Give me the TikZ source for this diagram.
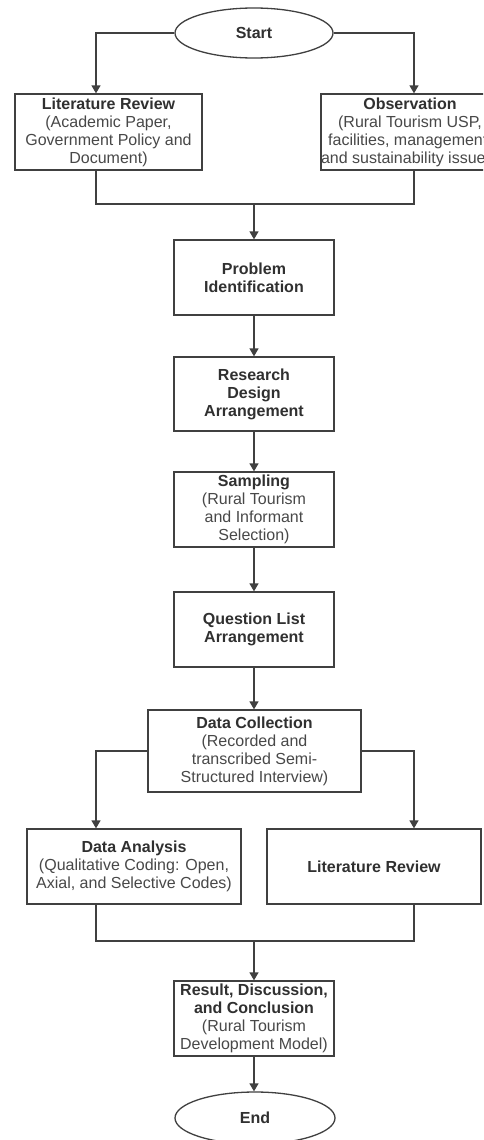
\documentclass[tikz,border=0pt]{standalone}
\usepackage{fontspec}
\setmainfont{Liberation Sans}
\usetikzlibrary{arrows.meta,shapes.geometric}
\definecolor{lnc}{HTML}{404040}
\definecolor{ttl}{HTML}{303030}
\definecolor{sub}{HTML}{484848}
\newcommand{\bt}[1]{{\bfseries\color{ttl}#1}}
\tikzset{
  base/.style={draw=lnc, line width=1.3pt, text=sub, align=center, inner sep=0pt,
    font=\fontsize{16}{18}\selectfont},
  box/.style={base, rectangle},
  oval/.style={base, ellipse},
  arr/.style={draw=lnc, line width=1.3pt, -{Triangle[width=9pt,length=8pt]}},
  ln/.style={draw=lnc, line width=1.3pt},
}
\begin{document}
\begin{tikzpicture}[x=1pt,y=-1pt]
\useasboundingbox (0,0) rectangle (483,1140);
\clip (0,0) rectangle (483,1140);
\fill[white] (0,0) rectangle (483,1140);
\coordinate (lcol) at (96,0);
\coordinate (rcol) at (414,0);
\coordinate (j1) at (254,204);
\coordinate (j2) at (254,941);

\node[oval, minimum width=158pt, minimum height=50pt] (start) at (254,33) {\bt{Start}};
\node[box, minimum width=187pt, minimum height=76pt] (lit1) at (108.5,132)
  {\bt{Literature Review}\\(Academic Paper,\\Government Policy and\\Document)};
\node[box, minimum width=178pt, minimum height=76pt] (obs) at (410,132)
  {\bt{Observation}\\(Rural Tourism USP,\\facilities, management,\\and sustainability issues)};
\node[box, minimum width=160pt, minimum height=75pt] (prob) at (254,277.5)
  {\bt{Problem}\\\bt{Identification}};
\node[box, minimum width=160pt, minimum height=74pt] (rda) at (254,394)
  {\bt{Research}\\\bt{Design}\\\bt{Arrangement}};
\node[box, minimum width=160pt, minimum height=75pt] (samp) at (254,509.5)
  {\bt{Sampling}\\(Rural Tourism\\and Informant\\Selection)};
\node[box, minimum width=160pt, minimum height=75pt] (ql) at (254,629.5)
  {\bt{Question List}\\\bt{Arrangement}};
\node[box, minimum width=213pt, minimum height=82pt] (dc) at (254.5,751)
  {\bt{Data Collection}\\(Recorded and\\transcribed Semi-\\Structured Interview)};
\node[box, minimum width=214pt, minimum height=75pt] (da) at (134,866.5)
  {\bt{Data Analysis}\\(Qualitative Coding: Open,\\Axial, and Selective Codes)};
\node[box, minimum width=214pt, minimum height=75pt] (lr2) at (374,866.5)
  {\bt{Literature Review}};
\node[box, minimum width=160pt, minimum height=75pt] (res) at (254,1018.5)
  {\bt{Result, Discussion,}\\\bt{and Conclusion}\\(Rural Tourism\\Development Model)};
\node[oval, minimum width=160pt, minimum height=52pt] (end) at (255,1118) {\bt{End}};

\draw[arr] (start.west) -| (lit1.north -| lcol);
\draw[arr] (start.east) -| (obs.north -| rcol);
\draw[ln] (lit1.south -| lcol) |- (j1) -| (obs.south -| rcol);
\draw[arr] (j1) -- (prob.north);
\draw[arr] (prob) -- (rda);
\draw[arr] (rda) -- (samp);
\draw[arr] (samp) -- (ql);
\draw[arr] (ql.south) -- (ql.south |- dc.north);
\draw[arr] (dc.west) -| (da.north -| lcol);
\draw[arr] (dc.east) -| (lr2.north -| rcol);
\draw[ln] (da.south -| lcol) |- (j2) -| (lr2.south -| rcol);
\draw[arr] (j2) -- (res.north);
\draw[arr] (res.south) -- (res.south |- end.north);
\end{tikzpicture}
\end{document}
